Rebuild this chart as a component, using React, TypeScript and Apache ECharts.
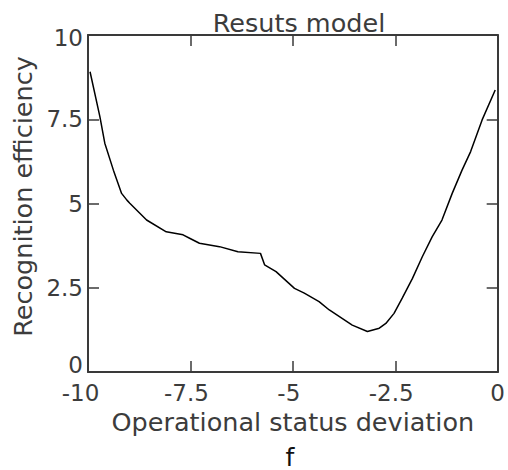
import React, { useEffect, useRef } from "react";
import * as echarts from "echarts";

const chartTitle = "Resuts model";
const subLabel = "f";
const xAxisName = "Operational status deviation";
const yAxisName = "Recognition efficiency";

const xTicks = [-10, -7.5, -5, -2.5, 0];
const yTicks = [0, 2.5, 5, 7.5, 10];

const deviation = [
  -9.95, -9.71, -9.59, -9.38, -9.18, -9.05, -8.98, -8.57, -8.09, -7.68, -7.52,
  -7.28, -6.79, -6.34, -5.79, -5.69, -5.41, -4.96, -4.72, -4.36, -4.11, -3.55,
  -3.18, -2.89, -2.73, -2.53, -2.33, -2.08, -1.84, -1.6, -1.36, -1.11, -0.87,
  -0.66, -0.38, -0.06,
];
const efficiency = [
  8.91, 7.58, 6.79, 5.99, 5.3, 5.1, 5.01, 4.51, 4.16, 4.07, 3.97, 3.82, 3.72,
  3.57, 3.52, 3.18, 2.98, 2.48, 2.34, 2.09, 1.84, 1.39, 1.2, 1.3, 1.44, 1.74,
  2.19, 2.78, 3.42, 4.01, 4.51, 5.3, 5.99, 6.54, 7.48, 8.37,
];

const FONT = "DejaVu Sans";
const TEXT = "#3c3c3c";
const AXIS = "#3a3a3a";

export default function App() {
  const ref = useRef<HTMLDivElement>(null);
  useEffect(() => {
    document.body.style.margin = "0";
    if (!ref.current) return;
    const chart = echarts.init(ref.current, undefined, { renderer: "svg" });
    const data = deviation.map((x, i) => [x, efficiency[i]]);
    const tickStyle = { show: true, inside: true, length: 11, lineStyle: { color: AXIS, width: 1.5 } };
    const labelBase = { fontFamily: FONT, fontSize: 23, color: TEXT };
    chart.setOption({
      animation: false,
      backgroundColor: "#ffffff",
      title: [
        {
          text: chartTitle,
          left: 294,
          top: 5,
          textAlign: "center",
          textStyle: { fontFamily: FONT, fontSize: 25.5, fontWeight: "normal", color: TEXT },
        },
        {
          text: subLabel,
          left: 290,
          top: 445,
          padding: 0,
          textAlign: "center",
          textStyle: { fontFamily: FONT, fontSize: 25, lineHeight: 24, fontWeight: "normal", color: "#111" },
        },
      ],
      grid: { left: 88, top: 35, right: 9, bottom: 98, containLabel: false },
      xAxis: [
        {
          type: "value",
          min: -10,
          max: 0,
          interval: 2.5,
          position: "bottom",
          name: xAxisName,
          nameLocation: "middle",
          nameGap: 33,
          nameTextStyle: { fontFamily: FONT, fontSize: 25.5, color: TEXT },
          axisLine: { show: true, onZero: false, lineStyle: { color: AXIS, width: 2 } },
          axisTick: tickStyle,
          axisLabel: {
            ...labelBase,
            margin: 9,
            formatter: (v: number) => {
              if (!xTicks.includes(v)) return "";
              if (v === -10) return "{w|" + v + "}";
              if (v < 0) return "{n|" + v + "}";
              return "{z|" + v + "}";
            },
            rich: {
              w: { ...labelBase, padding: [0, 15, 0, 0] },
              n: { ...labelBase, padding: [0, 8, 0, 0] },
              z: { ...labelBase },
            },
          },
          splitLine: { show: false },
        },
        {
          type: "value",
          min: -10,
          max: 0,
          interval: 2.5,
          position: "top",
          axisLine: { show: true, onZero: false, lineStyle: { color: AXIS, width: 2 } },
          axisTick: tickStyle,
          axisLabel: { show: false },
          splitLine: { show: false },
        },
      ],
      yAxis: [
        {
          type: "value",
          min: 0,
          max: 10,
          interval: 2.5,
          position: "left",
          name: yAxisName,
          nameLocation: "middle",
          nameGap: 46,
          nameRotate: 90,
          nameTextStyle: { fontFamily: FONT, fontSize: 25.5, color: TEXT, padding: [0, 0, 0, 14] },
          axisLine: { show: true, onZero: false, lineStyle: { color: AXIS, width: 2 } },
          axisTick: tickStyle,
          axisLabel: {
            ...labelBase,
            margin: 5,
            formatter: (v: number) => {
              if (!yTicks.includes(v)) return "";
              if (v === 0) return "{lo|" + v + "}";
              if (v === 10) return "{hi|" + v + "}";
              return "{m|" + v + "}";
            },
            rich: {
              lo: { ...labelBase, padding: [0, 0, 15, 0] },
              hi: { ...labelBase, padding: [6, 0, 0, 0] },
              m: { ...labelBase },
            },
          },
          splitLine: { show: false },
        },
        {
          type: "value",
          min: 0,
          max: 10,
          interval: 2.5,
          position: "right",
          axisLine: { show: true, onZero: false, lineStyle: { color: AXIS, width: 2 } },
          axisTick: tickStyle,
          axisLabel: { show: false },
          splitLine: { show: false },
        },
      ],
      series: [
        {
          type: "line",
          data,
          showSymbol: false,
          symbol: "none",
          lineStyle: { color: "#000", width: 1.5 },
          xAxisIndex: 0,
          yAxisIndex: 0,
        },
      ],
    });
    return () => chart.dispose();
  }, []);
  return <div ref={ref} style={{ width: 508, height: 470 }} />;
}
